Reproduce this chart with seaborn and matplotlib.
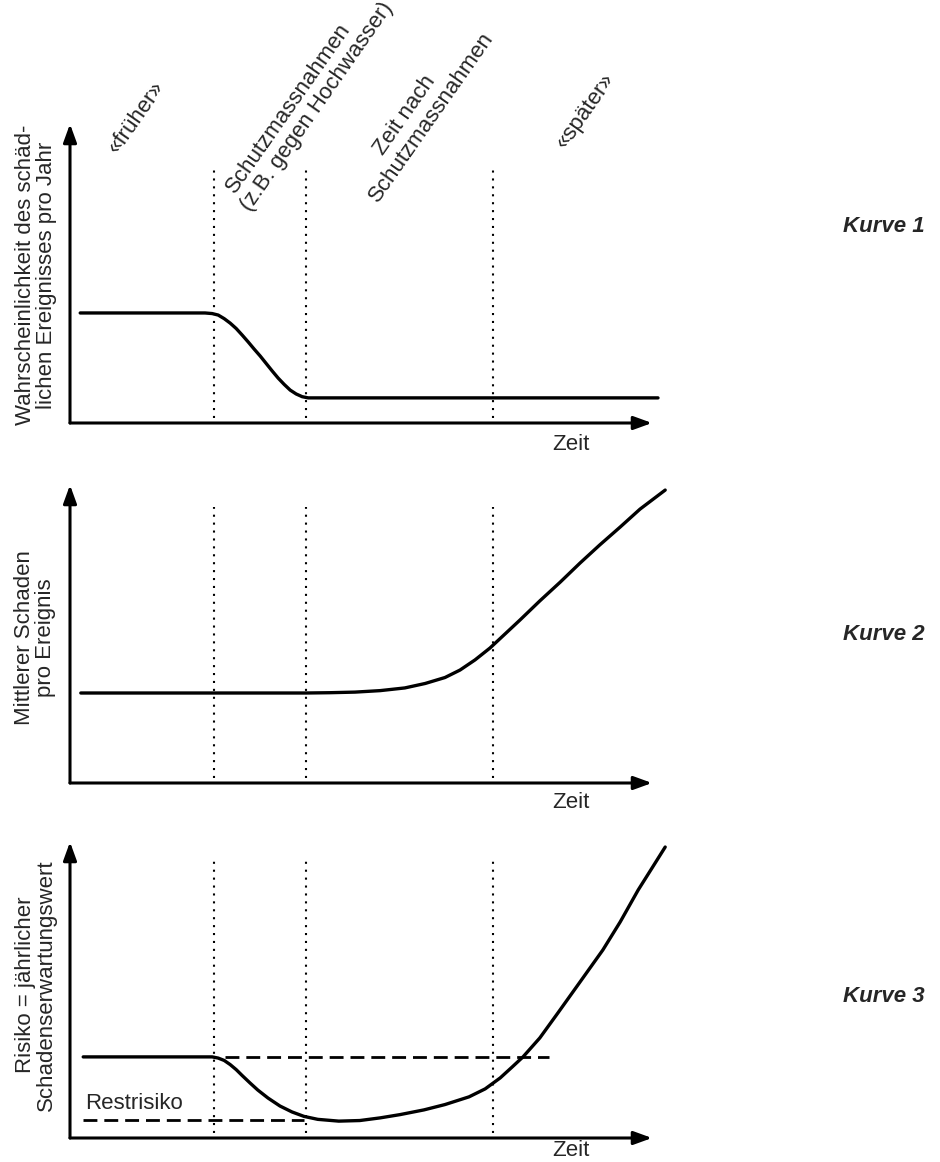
import matplotlib
matplotlib.use("Agg")
import matplotlib.pyplot as plt
import pandas as pd
import seaborn as sns

sns.set_theme(style="white")
plt.rcParams["font.family"] = ["Liberation Sans", "DejaVu Sans"]

W, H = 940, 1162

# phase boundaries on the time axis (dotted lines)
phase_x = [24.0, 39.3, 70.5]

# Kurve 1: Wahrscheinlichkeit pro Jahr
k1_t = [1.7, 22.5, 23.7, 24.7, 25.7, 26.7, 27.7, 28.7, 29.7, 30.7, 31.7, 32.7,
        33.7, 34.7, 35.7, 36.7, 37.7, 38.7, 39.7, 98.0]
k1_v = [36.8, 36.8, 36.6, 36.1, 34.9, 33.4, 31.6, 29.4, 27.1, 24.7, 22.4, 19.9,
        17.4, 15.0, 12.9, 11.0, 9.7, 8.8, 8.4, 8.4]

# Kurve 2: mittlerer Schaden pro Ereignis
k2_t = [1.8, 39.3, 43.3, 47.5, 51.7, 55.8, 59.2, 62.5, 65.0, 67.5, 70.0, 72.5,
        75.0, 78.3, 81.7, 85.0, 88.3, 91.7, 95.0, 99.2]
k2_v = [30.2, 30.2, 30.3, 30.5, 31.0, 31.9, 33.4, 35.4, 37.9, 41.3, 45.3, 50.0,
        54.7, 61.1, 67.4, 73.8, 79.9, 85.9, 91.9, 98.3]

# Kurve 3: Risiko
k3_t = [2.2, 23.7, 24.7, 25.7, 26.7, 27.7, 28.7, 30.0, 31.3, 33.0, 35.0, 37.0,
        39.0, 41.3, 44.8, 48.3, 51.7, 55.0, 59.0, 62.5, 66.5, 69.2, 71.7, 73.7,
        75.5, 78.3, 81.3, 85.0, 88.8, 91.7, 94.7, 97.0, 99.2]
k3_v = [27.4, 27.4, 27.0, 26.2, 24.8, 23.1, 21.1, 18.6, 16.2, 13.5, 10.8, 8.8,
        7.3, 6.3, 5.7, 5.9, 6.8, 7.9, 9.5, 11.3, 13.9, 16.6, 20.3, 24.0,
        27.4, 33.8, 42.2, 52.7, 63.5, 73.0, 83.8, 91.2, 98.3]

risk_before = 27.4
risk_rest = 6.1

y_labels = [
    "Wahrscheinlichkeit des schäd-\nlichen Ereignisses pro Jahr",
    "Mittlerer Schaden\npro Ereignis",
    "Risiko = jährlicher\nSchadenserwartungswert",
]
curve_names = ["Kurve 1", "Kurve 2", "Kurve 3"]
phase_labels = ["«früher»", "Schutzmassnahmen", "(z.B. gegen Hochwasser)",
                "Zeit nach", "Schutzmassnahmen", "«später»"]

# panel geometry in pixels: (arrow tip, x axis, dotted top in data units)
panels = [(124, 423, 85.3), (485, 783, 92.6), (842, 1138, 93.9)]
ylab_pos = [(36, 275), (35, 638), (36, 985)]
zeit_off = [21, 20, 13]
kurve_y = [226, 634, 997]
phase_pos = [(136, 118), (288, 108), (317, 107), (405, 115), (431, 117), (585, 111)]

FS = 16
fig = plt.figure(figsize=(W / 100, H / 100), dpi=100)

curves = [(k1_t, k1_v), (k2_t, k2_v), (k3_t, k3_v)]
arrow = dict(arrowstyle="-|>,head_length=0.55,head_width=0.2", lw=2.2,
             color="black", mutation_scale=20, shrinkA=0, shrinkB=0)

for i, ((top, base, dot_top), (t, v)) in enumerate(zip(panels, curves)):
    h = base - top
    ax = fig.add_axes([70 / W, 1 - base / H, 600 / W, h / H])
    ax.set_xlim(0, 100)
    ax.set_ylim(0, 100)
    ax.axis("off")

    ax.annotate("", xy=(0, 100), xytext=(0, 0), arrowprops=arrow, annotation_clip=False)
    ax.annotate("", xy=(97, 0), xytext=(0, 0), arrowprops=arrow, annotation_clip=False)

    ax.vlines(phase_x, 1.8, dot_top, colors="black", linestyles=(0, (1, 2.8)), lw=1.5)

    df = pd.DataFrame({"t": t, "v": v})
    sns.lineplot(data=df, x="t", y="v", ax=ax, color="black", lw=2.4,
                 sort=False, estimator=None)
    for line in ax.lines:
        line.set_clip_on(False)
        line.set_solid_joinstyle("round")
        line.set_solid_capstyle("round")

    if i == 2:
        ax.hlines(risk_before, 25.8, 79.8, colors="black", linestyles=(0, (5, 2.5)), lw=2)
        ax.hlines(risk_rest, 2.2, 39.0, colors="black", linestyles=(0, (5, 2.5)), lw=2)
        ax.text(2.5, 11.8, "Restrisiko", ha="left", va="center", fontsize=FS)

    ax.text(83.5, -zeit_off[i] / h * 100, "Zeit", ha="center", va="center", fontsize=FS)
    ax.set_xlabel("")
    ax.set_ylabel("")

    lx, ly = ylab_pos[i]
    fig.text(lx / W, 1 - ly / H, y_labels[i], rotation=90, ha="center", va="center",
             multialignment="center", linespacing=1.0, fontsize=FS)
    fig.text(843 / W, 1 - kurve_y[i] / H, curve_names[i], ha="left", va="center",
             fontsize=FS, weight="bold", style="italic")

for label, (px, py) in zip(phase_labels, phase_pos):
    fig.text(px / W, 1 - py / H, label, rotation=55, rotation_mode="anchor",
             ha="center", va="center", fontsize=FS)

fig.savefig("out.png", dpi=100)
